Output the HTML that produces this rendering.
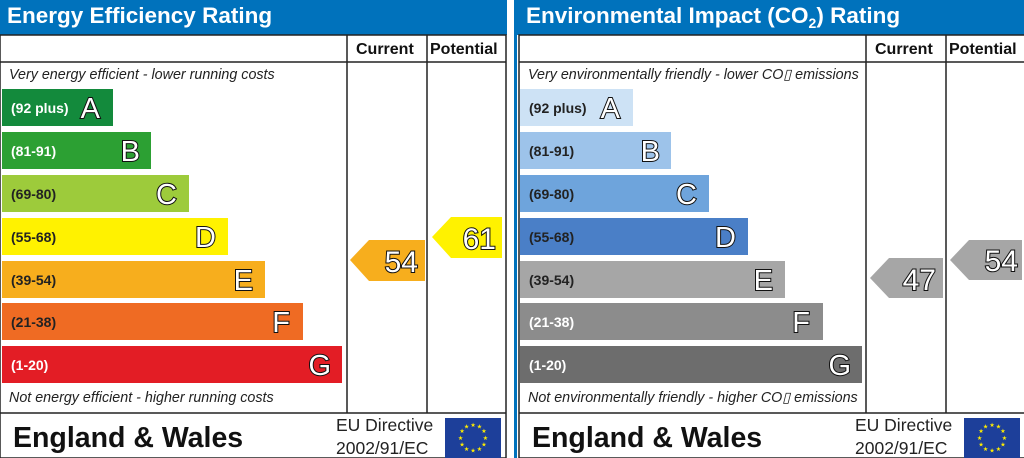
<!DOCTYPE html>
<html><head><meta charset="utf-8"><style>
html,body{margin:0;padding:0;background:#fff;width:1024px;height:458px;overflow:hidden}
svg{display:block;font-family:"Liberation Sans",Arial,sans-serif}
.t{font-size:22.5px;font-weight:bold;fill:#fff}
.h{font-size:16px;font-weight:bold;fill:#111}
.i{font-size:14.3px;font-style:italic;fill:#222}
.r{font-size:14px;font-weight:bold}
.L{font-size:29px;fill:#fff;stroke:#111;stroke-width:2px;paint-order:stroke;text-anchor:end}
.N{font-size:30px;fill:#fff;stroke:#111;stroke-width:2px;paint-order:stroke;text-anchor:end}
.ew{font-size:28.5px;font-weight:bold;fill:#111}
.eu{font-size:17.5px;fill:#222}
.st{font-size:6px;fill:#ffed00;text-anchor:middle}
</style></head><body>
<svg width="1024" height="458" viewBox="0 0 1024 458">
<defs>
<g id="flag">
<rect x="0" y="0" width="56" height="40" fill="#1d3f9a"/>
<g transform="translate(28,20)">
<text class="st" x="0" y="-11">★</text><text class="st" x="6.5" y="-9.5">★</text><text class="st" x="11" y="-5">★</text>
<text class="st" x="12.5" y="2">★</text><text class="st" x="11" y="8.5">★</text><text class="st" x="6.5" y="13">★</text>
<text class="st" x="0" y="14.5">★</text><text class="st" x="-6.5" y="13">★</text><text class="st" x="-11" y="8.5">★</text>
<text class="st" x="-12.5" y="2">★</text><text class="st" x="-11" y="-5">★</text><text class="st" x="-6.5" y="-9.5">★</text>
</g></g>
<g id="frame">
<rect x="0" y="35" width="506" height="423" fill="#fff" stroke="#222" stroke-width="1.5"/>
<line x1="0" y1="62" x2="506" y2="62" stroke="#222" stroke-width="1.5"/>
<line x1="0" y1="413" x2="506" y2="413" stroke="#222" stroke-width="1.5"/>
<line x1="347" y1="35" x2="347" y2="413" stroke="#222" stroke-width="1.5"/>
<line x1="427" y1="35" x2="427" y2="413" stroke="#222" stroke-width="1.5"/>
<text class="h" x="356" y="54">Current</text>
<text class="h" x="430" y="54">Potential</text>
<text class="ew" x="13" y="447">England &amp; Wales</text>
<text class="eu" x="336" y="431">EU Directive</text>
<text class="eu" x="336" y="454">2002/91/EC</text>
<use href="#flag" x="445" y="418"/>
</g>
</defs>

<!-- LEFT -->
<rect x="0" y="0" width="507" height="35" fill="#0072bc"/>
<text class="t" x="7" y="23">Energy Efficiency Rating</text>
<use href="#frame"/>
<text class="i" x="9" y="79">Very energy efficient - lower running costs</text>
<text class="i" x="9" y="402">Not energy efficient - higher running costs</text>
<rect x="2" y="89" width="111" height="37" fill="#138a3c"/>
<rect x="2" y="132" width="149" height="37" fill="#2ca033"/>
<rect x="2" y="175" width="187" height="37" fill="#9dcb3b"/>
<rect x="2" y="218" width="226" height="37" fill="#fff200"/>
<rect x="2" y="261" width="263" height="37" fill="#f7ae1d"/>
<rect x="2" y="303" width="301" height="37" fill="#ef6b23"/>
<rect x="2" y="346" width="340" height="37" fill="#e31d25"/>
<g class="r">
<text x="11" y="113" fill="#fff">(92 plus)</text>
<text x="11" y="156" fill="#fff">(81-91)</text>
<text x="11" y="199" fill="#222">(69-80)</text>
<text x="11" y="242" fill="#222">(55-68)</text>
<text x="11" y="285" fill="#222">(39-54)</text>
<text x="11" y="327" fill="#222">(21-38)</text>
<text x="11" y="370" fill="#fff">(1-20)</text>
</g>
<text class="L" x="100" y="118">A</text>
<text class="L" x="140" y="161">B</text>
<text class="L" x="177" y="204">C</text>
<text class="L" x="216" y="247">D</text>
<text class="L" x="253" y="290">E</text>
<text class="L" x="290" y="332">F</text>
<text class="L" x="331" y="375">G</text>
<polygon points="350,260 369,240 425,240 425,281 369,281" fill="#f7ae1d"/>
<text class="N" x="418" y="272">54</text>
<polygon points="432,237 451,217 502,217 502,258 451,258" fill="#fff200"/>
<text class="N" x="496" y="249">61</text>

<!-- RIGHT -->
<g transform="translate(519,0)">
<rect x="-5" y="0" width="515" height="35" fill="#0072bc"/>
<use href="#frame"/>
</g>
<rect x="514" y="35" width="3" height="423" fill="#0072bc"/>
<text class="t" x="526" y="23">Environmental Impact (CO<tspan font-size="14" dy="5">2</tspan><tspan dy="-5">) Rating</tspan></text>
<text class="i" x="528" y="79">Very environmentally friendly - lower CO▯  emissions</text>
<text class="i" x="528" y="402">Not environmentally friendly - higher CO▯ emissions</text>
<g transform="translate(518,0)">
<rect x="2" y="89" width="113" height="37" fill="#cde2f5"/>
<rect x="2" y="132" width="151" height="37" fill="#9dc3ea"/>
<rect x="2" y="175" width="189" height="37" fill="#6ea4dc"/>
<rect x="2" y="218" width="228" height="37" fill="#4a7fc7"/>
<rect x="2" y="261" width="265" height="37" fill="#a6a6a6"/>
<rect x="2" y="303" width="303" height="37" fill="#8c8c8c"/>
<rect x="2" y="346" width="342" height="37" fill="#6d6d6d"/>
<g class="r">
<text x="11" y="113" fill="#222">(92 plus)</text>
<text x="11" y="156" fill="#222">(81-91)</text>
<text x="11" y="199" fill="#222">(69-80)</text>
<text x="11" y="242" fill="#222">(55-68)</text>
<text x="11" y="285" fill="#222">(39-54)</text>
<text x="11" y="327" fill="#fff">(21-38)</text>
<text x="11" y="370" fill="#fff">(1-20)</text>
</g>
<text class="L" x="102" y="118">A</text>
<text class="L" x="142" y="161">B</text>
<text class="L" x="179" y="204">C</text>
<text class="L" x="218" y="247">D</text>
<text class="L" x="255" y="290">E</text>
<text class="L" x="292" y="332">F</text>
<text class="L" x="333" y="375">G</text>
</g>
<polygon points="870,278 889,258 943,258 943,298 889,298" fill="#a6a6a6"/>
<text class="N" x="936" y="290">47</text>
<polygon points="950,260 969,240 1022,240 1022,280 969,280" fill="#a6a6a6"/>
<text class="N" x="1018" y="271">54</text>
</svg>
</body></html>
